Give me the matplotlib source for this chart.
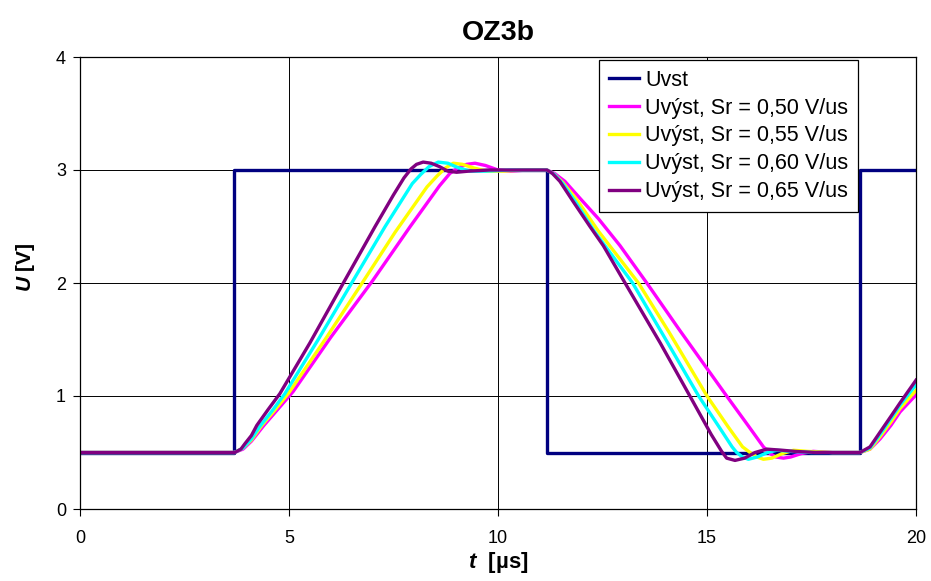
import numpy as np
import matplotlib
matplotlib.use('Agg')
import matplotlib.pyplot as plt

plt.rcParams['font.family'] = ['Liberation Sans', 'DejaVu Sans']
plt.rcParams['mathtext.fontset'] = 'custom'
plt.rcParams['mathtext.bfit'] = 'Liberation Sans:italic:bold'
plt.rcParams['mathtext.rm'] = 'Liberation Sans:bold'

# input square wave
t_in = [0, 3.68, 3.68, 11.17, 11.17, 18.66, 18.66, 20]
u_in = [0.5, 0.5, 3.0, 3.0, 0.5, 0.5, 3.0, 3.0]

# output, Sr = 0,50 V/us
t_50 = [0, 3.7, 3.9, 4.1, 4.4, 4.75, 5.1, 6.0, 7.0, 7.9, 8.6, 8.85, 9.05, 9.25, 9.45, 9.7, 10.0, 10.3, 10.7,
        11.17, 11.35, 11.6, 11.96, 12.4, 12.92, 13.56, 14.35, 15.47, 16.0, 16.35, 16.51, 16.65, 16.83, 17.0,
        17.25, 17.54, 18.0, 18.66, 18.9, 19.14, 19.4, 19.62, 20]
u_50 = [0.5, 0.5, 0.53, 0.6, 0.74, 0.89, 1.04, 1.52, 2.02, 2.5, 2.86, 2.97, 3.02, 3.05, 3.06, 3.04, 3.0, 2.99, 3.0,
        3.0, 2.97, 2.9, 2.75, 2.57, 2.33, 2.0, 1.58, 1.0, 0.73, 0.55, 0.49, 0.46, 0.45, 0.46,
        0.49, 0.51, 0.5, 0.5, 0.53, 0.62, 0.74, 0.86, 1.01]

# output, Sr = 0,55 V/us
t_55 = [0, 3.7, 3.9, 4.1, 4.35, 4.65, 4.98, 5.9, 6.75, 7.54, 8.3, 8.55, 8.75, 8.93, 9.15, 9.4, 9.73, 10.1, 10.6,
        11.17, 11.35, 11.55, 11.9, 12.4, 13.36, 14.1, 15.0, 15.5, 15.85, 16.03, 16.2, 16.35, 16.55, 16.8,
        17.07, 17.4, 18.0, 18.66, 18.9, 19.14, 19.4, 19.62, 20]
u_55 = [0.5, 0.5, 0.54, 0.61, 0.74, 0.87, 1.02, 1.52, 2.0, 2.45, 2.85, 2.95, 3.02, 3.06, 3.05, 3.02, 2.99, 2.99, 3.0,
        3.0, 2.96, 2.89, 2.73, 2.46, 2.0, 1.56, 1.0, 0.73, 0.55, 0.5, 0.46, 0.44, 0.45, 0.49,
        0.52, 0.51, 0.5, 0.5, 0.53, 0.64, 0.77, 0.89, 1.05]

# output, Sr = 0,60 V/us
t_60 = [0, 3.7, 3.9, 4.1, 4.3, 4.6, 4.9, 5.7, 6.5, 7.3, 7.95, 8.15, 8.35, 8.57, 8.8, 9.05, 9.33, 9.7, 10.3,
        11.17, 11.35, 11.55, 11.85, 12.3, 13.22, 13.95, 14.8, 15.3, 15.6, 15.71, 15.85, 15.99, 16.2, 16.45,
        16.67, 17.0, 17.5, 18.66, 18.9, 19.14, 19.4, 19.62, 20]
u_60 = [0.5, 0.5, 0.54, 0.62, 0.73, 0.87, 1.02, 1.5, 2.0, 2.5, 2.88, 2.96, 3.03, 3.07, 3.06, 3.02, 2.99, 2.99, 3.0,
        3.0, 2.96, 2.88, 2.72, 2.46, 2.0, 1.54, 1.0, 0.72, 0.55, 0.5, 0.46, 0.44, 0.46, 0.5,
        0.52, 0.51, 0.5, 0.5, 0.54, 0.66, 0.8, 0.92, 1.1]

# output, Sr = 0,65 V/us
t_65 = [0, 3.7, 3.85, 3.95, 4.1, 4.23, 4.5, 4.78, 5.5, 6.3, 7.06, 7.5, 7.75, 7.92, 8.05, 8.21, 8.4, 8.6, 8.8, 9.01,
        9.3, 9.8, 11.17, 11.3, 11.48, 11.8, 12.2, 12.52, 13.04, 13.88, 14.59, 15.1, 15.35, 15.47, 15.67, 15.9,
        16.15, 16.43, 16.8, 17.1, 17.6, 18.66, 18.9, 19.14, 19.4, 19.62, 20]
u_65 = [0.5, 0.5, 0.53, 0.58, 0.65, 0.74, 0.88, 1.02, 1.47, 2.0, 2.5, 2.78, 2.93, 3.01, 3.05, 3.07, 3.06, 3.03, 2.99, 2.98,
        2.99, 3.0, 3.0, 2.97, 2.9, 2.72, 2.5, 2.33, 2.0, 1.47, 1.0, 0.66, 0.51, 0.45, 0.43, 0.45,
        0.5, 0.53, 0.52, 0.51, 0.5, 0.5, 0.55, 0.68, 0.82, 0.94, 1.14]

fig = plt.figure(figsize=(9.31, 5.81), dpi=100)
ax = fig.add_axes([80/931, 1-509/581, 836/931, 452/581])

ax.plot(t_in, u_in, color='#000080', lw=2.4, label='Uvst')
ax.plot(t_50, u_50, color='#FF00FF', lw=2.4, label='Uvýst, Sr = 0,50 V/us')
ax.plot(t_55, u_55, color='#FFFF00', lw=2.4, label='Uvýst, Sr = 0,55 V/us')
ax.plot(t_60, u_60, color='#00FFFF', lw=2.4, label='Uvýst, Sr = 0,60 V/us')
ax.plot(t_65, u_65, color='#800080', lw=2.4, label='Uvýst, Sr = 0,65 V/us')

ax.set_xlim(0, 20)
ax.set_ylim(0, 4)
ax.set_xticks([0, 5, 10, 15, 20])
ax.set_yticks([0, 1, 2, 3, 4])
ax.grid(True, color='black', lw=0.7)
for s in ax.spines.values():
    s.set_color('black')
    s.set_linewidth(0.9)
ax.tick_params(axis='both', direction='out', length=5, width=0.8, labelsize=13)
ax.tick_params(axis='x', pad=10)
ax.tick_params(axis='y', pad=5)

ax.set_title('OZ3b', fontsize=20.5, fontweight='bold', pad=12)
ax.set_xlabel(r'$\mathbfit{t}$  [µs]', fontsize=16, fontweight='bold', labelpad=2)
ax.set_ylabel(r'$\mathbfit{U}$ [V]', fontsize=15, fontweight='bold')
ax.yaxis.set_label_coords(-0.052, 0.535)

leg = ax.legend(loc='upper right', bbox_to_anchor=(858/931, 1-60/581), bbox_transform=fig.transFigure,
                fontsize=15.5, fancybox=False, framealpha=1, edgecolor='black', handlelength=1.4,
                handletextpad=0.3, labelspacing=0.32, borderpad=0.45, borderaxespad=0)
leg.get_frame().set_linewidth(0.9)

fig.savefig('out.png', dpi=100)
